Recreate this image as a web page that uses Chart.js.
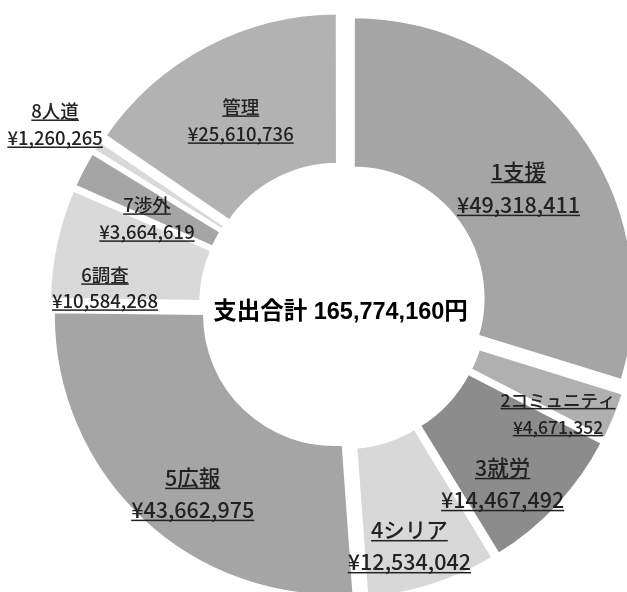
<!DOCTYPE html>
<html><head><meta charset="utf-8">
<script src="https://cdn.jsdelivr.net/npm/chart.js@4/dist/chart.umd.min.js"></script>
<style>html,body{margin:0;padding:0;background:#fff;overflow:hidden}canvas{display:block}</style>
</head><body>
<canvas id="c" width="627" height="592"></canvas>
<script>
// ---- data ----
const categories = ['1支援','2コミュニティ','3就労','4シリア','5広報','6調査','7渉外','8人道','管理'];
const amounts = [49318411, 4671352, 14467492, 12534042, 43662975, 10584268, 3664619, 1260265, 25610736];
const totalLabel = '支出合計 165,774,160円';

// ---- styles ----
const sliceColors = ['#a5a5a5','#b0b0b0','#8c8c8c','#d8d8d8','#a5a5a5','#d9d9d9','#a5a5a5','#d9d9d9','#b2b2b2'];
const labelFontSizes = [21.5, 17.5, 21.5, 21.5, 21.5, 18.5, 18.5, 18.5, 18.5];
const labelLineGaps = [33, 27, 32, 32, 32, 26, 27, 27, 27];
const labelNudges = [[0,12.6],[13,25.7],[0,30],[0,33],[-0.7,29.7],[-24.8,28.6],[-2.8,14.3],[-105,-62],[-0.5,8]];
const EXPLODE = 13;

function fmtYen(n){ return '¥' + n.toLocaleString('en-US'); }

function drawUnderlined(ctx, text, x, y, fs){
  ctx.font = '500 ' + fs + 'px "Noto Sans CJK JP"';
  ctx.fillStyle = '#222222';
  ctx.textAlign = 'center';
  ctx.textBaseline = 'middle';
  ctx.fillText(text, x, y);
  const w = ctx.measureText(text).width;
  ctx.fillRect(x - w/2, y + fs*0.45, w, 1.5);
}

const labelPlugin = {
  id: 'sliceLabels',
  afterDatasetsDraw(chart){
    const ctx = chart.ctx;
    const meta = chart.getDatasetMeta(0);
    ctx.save();
    meta.data.forEach((arc, i) => {
      const mid = (arc.startAngle + arc.endAngle) / 2;
      const rad = (arc.innerRadius + arc.outerRadius) / 2 + EXPLODE;
      const x = arc.x + Math.cos(mid) * rad + labelNudges[i][0];
      const y = arc.y + Math.sin(mid) * rad + labelNudges[i][1];
      const fs = labelFontSizes[i], g = labelLineGaps[i];
      drawUnderlined(ctx, categories[i], x, y - g/2, fs);
      drawUnderlined(ctx, fmtYen(amounts[i]), x, y + g/2, fs);
    });
    const a0 = meta.data[0];
    ctx.font = 'bold 23.5px "Liberation Sans", "Noto Sans CJK JP"';
    ctx.fillStyle = '#000';
    ctx.textAlign = 'center';
    ctx.textBaseline = 'middle';
    ctx.fillText(totalLabel, a0.x - 2.5, a0.y + 7);
    ctx.restore();
  }
};

new Chart(document.getElementById('c'), {
  type: 'doughnut',
  data: {
    labels: categories,
    datasets: [{
      data: amounts,
      backgroundColor: sliceColors,
      borderColor: '#ffffff',
      borderWidth: 3.5,
      offset: (c) => {
        const data = c.dataset.data;
        const total = data.reduce((s, v) => s + v, 0);
        const circ = 2 * Math.PI * data[c.dataIndex] / total;
        const fix = 1 - Math.sin(Math.min(Math.PI, circ));
        return 4 * EXPLODE / (1 + fix);
      }
    }]
  },
  options: {
    responsive: false,
    animation: false,
    radius: 281,
    cutout: '46%',
    layout: { padding: { left: 59, top: 19, right: 0, bottom: 0 } },
    plugins: { legend: { display: false }, tooltip: { enabled: false } },
    events: []
  },
  plugins: [labelPlugin]
});
</script>
</body></html>
